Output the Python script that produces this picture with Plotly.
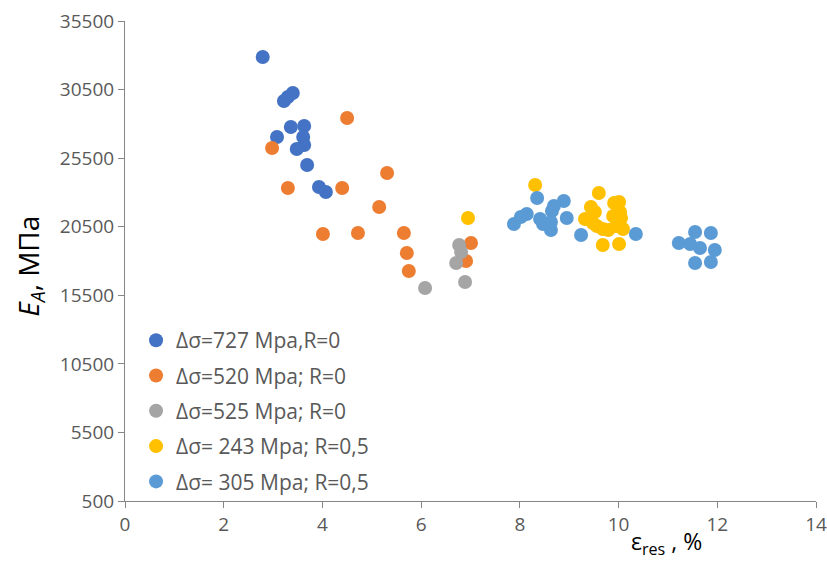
import plotly.graph_objects as go

# Series data (x = residual strain %, y = E_A, MPa)
s1_name = "Δσ=727 Mpa,R=0"
s1_x = [2.79, 3.40, 3.22, 3.30, 3.36, 3.63, 3.08, 3.61, 3.63, 3.48, 3.69, 3.93, 4.07]
s1_y = [32877, 30250, 29668, 29960, 27773, 27846, 27044, 27044, 26460, 26169, 25002, 23398, 23033]

s2_name = "Δσ=520 Mpa; R=0"
s2_x = [2.98, 4.50, 3.30, 4.40, 5.31, 5.15, 4.01, 4.72, 5.65, 5.71, 5.75, 7.01, 6.91]
s2_y = [26241, 28428, 23324, 23324, 24418, 21938, 19969, 20042, 20042, 18584, 17271, 19313, 18000]

s3_name = "Δσ=525 Mpa; R=0"
s3_x = [6.77, 6.81, 6.71, 6.08, 6.89]
s3_y = [19168, 18657, 17855, 16032, 16470]

s4_name = "Δσ= 243 Mpa; R=0,5"
s4_x = [6.95, 8.31, 9.60, 9.44, 9.52, 9.32, 9.91, 10.01, 10.03, 10.05, 9.48, 9.56, 9.68, 9.95, 10.09, 9.68, 10.01, 9.89, 9.79]
s4_y = [21136, 23543, 22959, 21938, 21574, 21063, 22230, 22303, 21574, 21136, 20772, 20553, 20334, 20553, 20334, 19168, 19240, 21282, 20261]

s5_name = "Δσ= 305 Mpa; R=0,5"
s5_x = [7.88, 8.02, 8.14, 8.35, 8.41, 8.47, 8.63, 8.63, 8.65, 8.69, 8.89, 8.95, 9.24, 10.35, 11.22, 11.45, 11.55, 11.87, 11.65, 11.95, 11.55, 11.87]
s5_y = [20699, 21209, 21428, 22595, 21063, 20699, 20845, 20261, 21647, 22011, 22376, 21136, 19897, 19969, 19313, 19240, 20115, 20042, 18949, 18803, 17855, 17928]

x_ticks = [0, 2, 4, 6, 8, 10, 12, 14]
y_ticks = [500, 5500, 10500, 15500, 20500, 25500, 30500, 35500]

series = [
    (s1_name, s1_x, s1_y, "#4472C4"),
    (s2_name, s2_x, s2_y, "#ED7D31"),
    (s3_name, s3_x, s3_y, "#A5A5A5"),
    (s4_name, s4_x, s4_y, "#FFC000"),
    (s5_name, s5_x, s5_y, "#5B9BD5"),
]

fig = go.Figure()
for i, (name, xs, ys, col) in enumerate(series):
    fig.add_trace(go.Scatter(x=xs, y=ys, mode="markers", name=name, legendgroup=f"g{i}",
                             marker=dict(color=col, size=14, line=dict(width=0))))

axis_col = "#868686"
tick_font = dict(family="Open Sans", size=19, color="#595959")

fig.update_layout(
    width=827, height=562,
    margin=dict(l=125, r=11, t=21, b=61, autoexpand=False),
    paper_bgcolor="white", plot_bgcolor="white",
    showlegend=True,
    legend=dict(x=0.016, y=0.377, xanchor="left", yanchor="top",
                font=dict(family="Open Sans", size=21, color="#595959"),
                bgcolor="rgba(0,0,0,0)", itemwidth=30, tracegroupgap=5),
    xaxis=dict(range=[0, 14], tickmode="array", tickvals=x_ticks,
               ticktext=[str(v) for v in x_ticks], automargin=False,
               ticklabeloverflow="allow",
               showgrid=False, zeroline=False, showline=True, linecolor=axis_col,
               linewidth=1, ticks="outside", ticklen=6, tickcolor=axis_col,
               tickfont=tick_font),
    yaxis=dict(range=[500, 35500], tickmode="array", tickvals=y_ticks,
               ticktext=[str(v) for v in y_ticks], automargin=False,
               ticklabeloverflow="allow",
               showgrid=False, zeroline=False, showline=True, linecolor=axis_col,
               linewidth=1, ticks="outside", ticklen=6, tickcolor=axis_col,
               tickfont=tick_font),
)

fig.add_annotation(text="<i>E<sub>A</sub></i>, МПа", xref="paper", yref="paper",
                   x=-0.1375, y=0.49, textangle=-90, showarrow=False,
                   xanchor="center", yanchor="middle",
                   font=dict(family="Open Sans", size=28, color="#000000"))
fig.add_annotation(text="ε<sub>res</sub> , %", xref="paper", yref="paper",
                   x=0.783, y=-0.045, showarrow=False,
                   xanchor="center", yanchor="top",
                   font=dict(family="Open Sans", size=23, color="#000000"))

fig.write_html("out.html", config={"displayModeBar": False},
               post_script="document.body.style.margin='0';document.body.style.overflow='hidden';")
